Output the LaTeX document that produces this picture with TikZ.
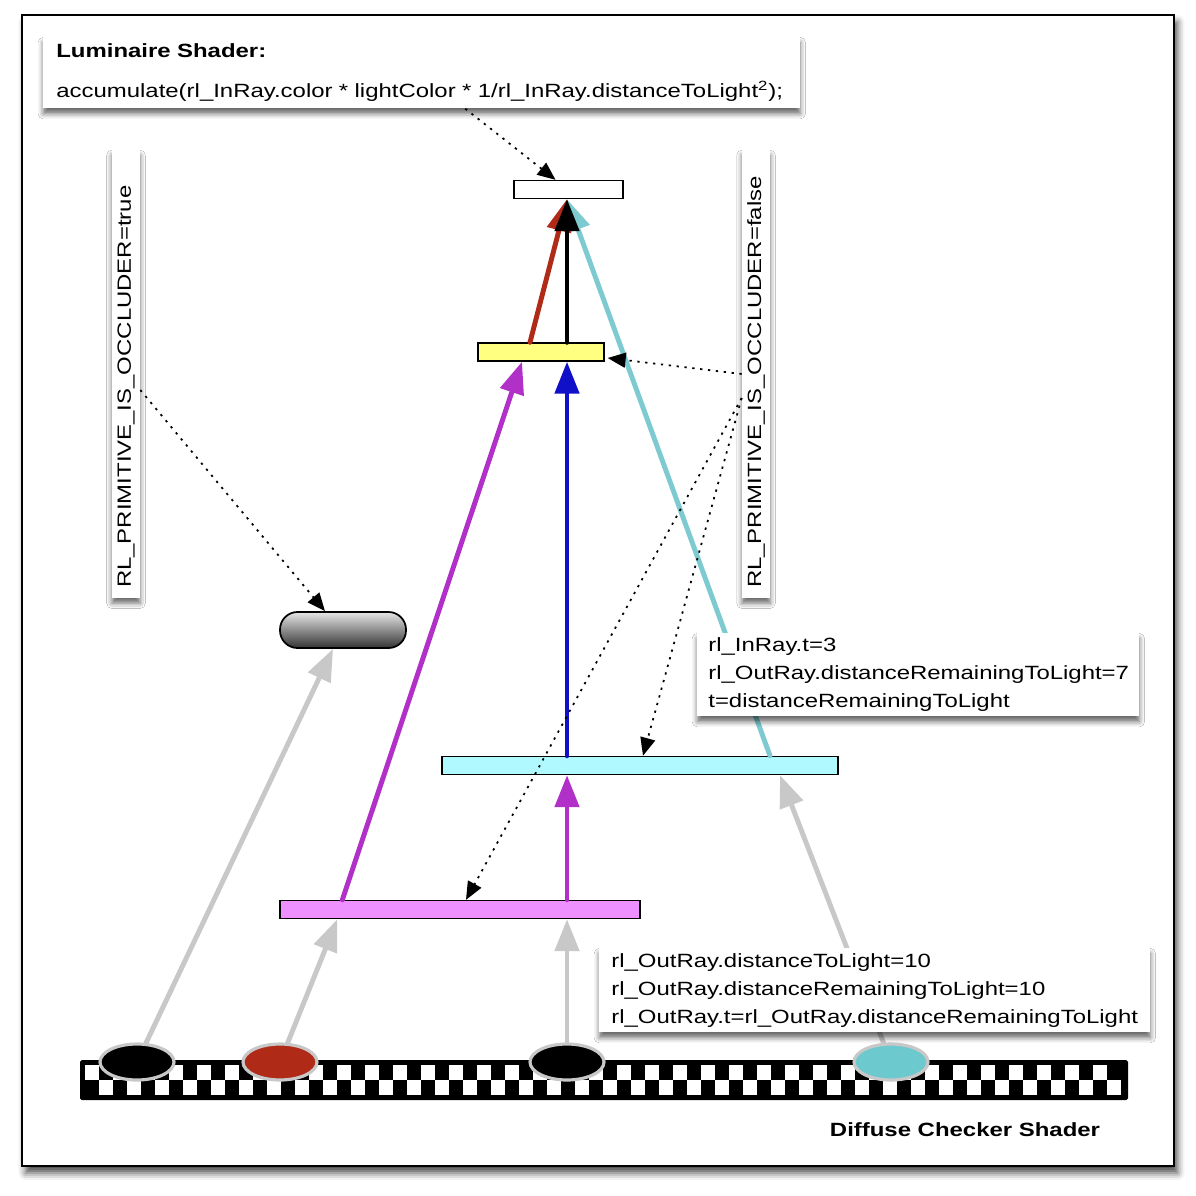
\documentclass[tikz,border=0pt]{standalone}
\usepackage{fontspec}
\setmainfont{Liberation Sans}[FakeStretch=1.25]
\usepackage{tikz}
\usetikzlibrary{positioning,calc,shapes.geometric,arrows.meta,shadows.blur}

\begin{document}
\begin{tikzpicture}[x=0.02cm, y=-0.02cm,
					font=\fontsize{10.9}{15.9}\selectfont
					]
					\definecolor{rayGray}{RGB}{200,200,200}
					\definecolor{rayMagenta}{RGB}{176,48,200}
					\definecolor{rayBlue}{RGB}{16,16,200}
					\definecolor{rayCyan}{RGB}{125,203,208}
					\definecolor{rayRed}{RGB}{176,42,24}
					\definecolor{barYellow}{RGB}{255,255,128}
					\definecolor{barCyan}{RGB}{176,250,255}
					\definecolor{barMagenta}{RGB}{238,144,255}
					\definecolor{spotCyan}{RGB}{108,202,206}
					\tikzset{
						bar/.style={draw=black, line width=0.8pt, minimum height=0.36cm, inner sep=0pt},
						note/.style={fill=white, blur shadow={shadow xshift=0pt, shadow yshift=-3pt, shadow blur radius=3pt, shadow opacity=60}, align=left, inner ysep=0pt},
						flag/.style={note, rotate=90, text width=8.56cm, inner xsep=0.2cm, minimum height=0.56cm},
						spot/.style={ellipse, draw=rayGray, line width=1.8pt, minimum width=1.48cm, minimum height=0.72cm, inner sep=0pt},
						ray/.style={line width=2.8pt, line cap=round, -{Triangle[length=0.64cm,width=0.48cm]}},
						hint/.style={black, opacity=1, fill opacity=1, line width=1pt, dash pattern=on 1.3pt off 3.2pt,
							-{Triangle[length=0.36cm,width=0.3cm,fill=black]}}
					}
					\useasboundingbox (0,0) rectangle (1196,1196);
					
					% cadre
					\draw[line width=1pt, fill=white, blur shadow={shadow xshift=2pt, shadow yshift=-4pt, shadow blur radius=4pt, shadow opacity=70}] (22,15) rectangle (1174,1166);
					
					% barres
					\node[bar, fill=white, minimum width=2.18cm] (lightbar) at (568.5,189.5) {};
					\node[bar, fill=barYellow, minimum width=2.52cm] (yellowbar) at (541,352) {};
					\node[bar, fill=barCyan, minimum width=7.92cm] (cyanbar) at (640,765.5) {};
					\node[bar, fill=barMagenta, minimum width=7.2cm] (magbar) at (460,909.5) {};
					\node[draw=black, line width=1pt, rounded corners=0.35cm, top color=black!10, bottom color=black!80,
						minimum width=2.52cm, minimum height=0.72cm, inner sep=0pt] (pill) at (343,630) {};
					
					% damier
					\fill[black, rounded corners=1pt] (80,1060) rectangle (1128,1100);
					\foreach \k in {0,...,36} {
						\fill[white] (85+28*\k,1065) rectangle +(14,15);
						\fill[white] (99+28*\k,1080) rectangle +(14,15);
					}
					\node[spot, fill=black] (spotA) at (137,1062) {};
					\node[spot, fill=rayRed] (spotB) at (280,1062) {};
					\node[spot, fill=black] (spotC) at (567,1062) {};
					\node[spot, fill=spotCyan] (spotD) at (891,1062) {};
					
					% rayons
					\draw[ray, rayGray] (spotA) -- ($(pill.south)+(-10,0)$);
					\draw[ray, rayGray] (spotB) -- ($(magbar.south west)+(58,0)$);
					\draw[ray, rayGray] (spotC) -- (magbar.south -| spotC);
					\draw[ray, rayGray] (spotD) -- ($(cyanbar.south)+(140,0)$);
					\draw[ray, rayMagenta] ($(magbar.north west)+(63,0)$) -- ($(yellowbar.south)+(-19,0)$);
					\draw[ray, rayMagenta] (magbar.north -| spotC) -- (cyanbar.south -| spotC);
					\draw[ray, rayBlue] (cyanbar.north -| spotC) -- (yellowbar.south -| spotC);
					\draw[ray, rayCyan] ($(cyanbar.north)+(130,0)$) -- (lightbar.south -| spotC);
					\draw[ray, rayRed] ($(yellowbar.north)+(-11,0)$) -- (lightbar.south -| spotC);
					\draw[ray, black] (yellowbar.north -| spotC) -- (lightbar.south -| spotC);
					
					% notes
					\node[note, anchor=north west, text width=14.62cm, inner xsep=0.26cm, minimum height=1.42cm] (lum) at (43,37)
						{\textbf{Luminaire Shader:}\\[7pt]accumulate(rl\_InRay.color * lightColor * 1/rl\_InRay.distanceToLight\textsuperscript{2});};
					\node[flag] (trueflag) at (126,374) {RL\_PRIMITIVE\_IS\_OCCLUDER=true};
					\node[flag] (falseflag) at (756,374) {RL\_PRIMITIVE\_IS\_OCCLUDER=false};
					\node[note, anchor=north west, text width=8.4cm, inner xsep=0.22cm, minimum height=1.66cm] (innote) at (697,633)
						{rl\_InRay.t=3\\rl\_OutRay.distanceRemainingToLight=7\\t=distanceRemainingToLight};
					\node[note, anchor=north west, text width=10.54cm, inner xsep=0.24cm, minimum height=1.68cm] (outnote) at (599,948)
						{rl\_OutRay.distanceToLight=10\\rl\_OutRay.distanceRemainingToLight=10\\rl\_OutRay.t=rl\_OutRay.distanceRemainingToLight};
					\node (checkername) at (965,1130) {\textbf{Diffuse Checker Shader}};
					
					% renvois
					\draw[hint] ($(lum.south)+(43.5,0)$) -- ($(lightbar.north)+(-13,0)$);
					\draw[hint] ($(trueflag.south)+(0,16)$) -- ($(pill.north)+(-18,0)$);
					\draw[hint] (falseflag.north) -- ($(yellowbar.east)+(3,6)$);
					\draw[hint] ($(falseflag.north)+(0,24)$) -- ($(cyanbar.north)+(3,0)$);
					\draw[hint] ($(falseflag.north)+(0,24)$) -- ($(magbar.north)+(6,0)$);
				\end{tikzpicture}
\end{document}
